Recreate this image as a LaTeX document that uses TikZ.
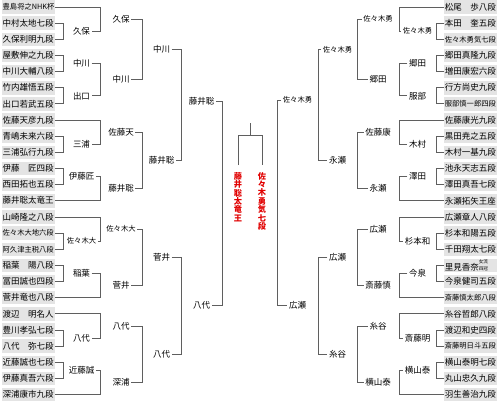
\documentclass[tikz,border=0pt]{standalone}
\usepackage{fontspec}
\setmainfont{Noto Sans CJK JP}
\usetikzlibrary{calc}
\definecolor{BoxGray}{RGB}{228,228,228}
\definecolor{LineGray}{RGB}{95,95,95}
\definecolor{FinalRed}{RGB}{225,0,0}
\newcommand\narrowname{\fontsize{7.3}{8}\selectfont}
\newcommand\lmatch[3]{\draw[bline] (#1.east) -- (#1.east -| #3) |- (#2.east);}
\newcommand\rmatch[3]{\draw[bline] (#1.west) -- (#1.west -| #3) |- (#2.west);}

\begin{document}
\begin{tikzpicture}[x=1pt, y=-1pt,
    player/.style={fill=BoxGray, minimum height=13.5pt, text width=51.5pt,
                   inner xsep=1pt, inner ysep=0pt, align=left,
                   font=\fontsize{8.5}{9}\selectfont},
    wlabel/.style={inner sep=1.5pt, font=\fontsize{8.5}{9}\selectfont},
    bline/.style={LineGray, line width=0.9pt},
    finalname/.style={text=FinalRed, inner sep=0pt, align=center,
                      font=\fontsize{8.2}{8.4}\selectfont\bfseries}]
    \path[fill=white] (0,0) rectangle (499,402);
    % bracket columns
    \foreach \n/\x in {c0/63, c1/100, c2/142, c3/181, c4/222,
                       r0/436, r1/399, r2/357, r3/318, r4/277} {
        \coordinate (\n) at (\x,0);
    }
    % left block
    \foreach \n [count=\i from 0] in {{\narrowname 豊島将之NHK杯}, 中村太地七段, 久保利明九段,
        屋敷伸之九段, 中川大輔八段, 竹内雄悟五段, 出口若武五段, 佐藤天彦九段, 青嶋未来六段,
        三浦弘行九段, 伊藤　匠四段, 西田拓也五段, 藤井聡太竜王, 山崎隆之八段,
        {\narrowname 佐々木大地六段}, {\narrowname 阿久津主税八段}, 稲葉　陽八段, 冨田誠也四段,
        菅井竜也八段, 渡辺　明名人, 豊川孝弘七段, 八代　弥七段, 近藤誠也七段, 伊藤真吾六段,
        深浦康市九段} {
        \node[player, anchor=west] (L\i) at (1.5,{7+16.15*\i}) {\n};
    }
    \foreach \n/\y/\t in {l1a/31.2/久保, l1b/63.5/中川, l1c/95.8/出口, l1d/144.3/三浦,
                          l1e/176.6/伊藤匠, l1f/241.2/{\narrowname 佐々木大}, l1g/273.5/稲葉,
                          l1h/338.1/八代, l1i/370.4/近藤誠} {
        \node[wlabel] (\n) at (81.5,\y) {\t};
    }
    \foreach \n/\y/\t in {l2a/19.1/久保, l2b/79.6/中川, l2c/132.2/佐藤天, l2d/188.7/藤井聡,
                          l2e/229.1/{\narrowname 佐々木大}, l2f/285.6/菅井, l2g/326/八代,
                          l2h/382.5/深浦} {
        \node[wlabel] (\n) at (121,\y) {\t};
    }
    \foreach \n/\y/\t in {l3a/49.3/中川, l3b/160.4/藤井聡, l3c/257.3/菅井, l3d/354.2/八代} {
        \node[wlabel] (\n) at (161.5,\y) {\t};
    }
    \foreach \n/\y/\t in {l4a/101/藤井聡, l4b/305/八代} {
        \node[wlabel] (\n) at (201.5,\y) {\t};
    }
    \foreach \a/\b in {L1/L2, L3/L4, L5/L6, L8/L9, L10/L11, L14/L15, L16/L17, L20/L21, L22/L23} {
        \lmatch{\a}{\b}{c0}
    }
    \foreach \a/\b in {L0/l1a, l1b/l1c, L7/l1d, l1e/L12, L13/l1f, l1g/L18, L19/l1h, l1i/L24} {
        \lmatch{\a}{\b}{c1}
    }
    \foreach \a/\b in {l2a/l2b, l2c/l2d, l2e/l2f, l2g/l2h} {
        \lmatch{\a}{\b}{c2}
    }
    \foreach \a/\b in {l3a/l3b, l3c/l3d} {
        \lmatch{\a}{\b}{c3}
    }
    \lmatch{l4a}{l4b}{c4}
    % right block
    \foreach \n [count=\i from 0] in {松尾　歩八段, 本田　奎五段, {\narrowname 佐々木勇気七段},
        郷田真隆九段, 増田康宏六段, 行方尚史九段, {\narrowname 服部慎一郎四段}, 佐藤康光九段,
        黒田尭之五段, 木村一基九段, 池永天志五段, 澤田真吾七段, 永瀬拓矢王座, 広瀬章人八段,
        杉本和陽五段, 千田翔太七段,
        {里見香奈{\fontsize{4.6}{4.8}\selectfont\shortstack{女流\\四冠}}},
        今泉健司五段, {\narrowname 斎藤慎太郎八段}, 糸谷哲郎八段, 渡辺和史四段,
        {\narrowname 斎藤明日斗五段}, 横山泰明七段, 丸山忠久九段, 羽生善治九段} {
        \node[player, anchor=east] (R\i) at (497.5,{7+16.15*\i}) {\n};
    }
    \foreach \n/\y/\t in {r1a/31.2/{\narrowname 佐々木勇}, r1b/63.5/郷田, r1c/95.8/服部,
                          r1d/144.3/木村, r1e/176.6/澤田, r1f/241.2/杉本和, r1g/273.5/今泉,
                          r1h/338.1/斎藤明, r1i/370.4/横山泰} {
        \node[wlabel] (\n) at (417.5,\y) {\t};
    }
    \foreach \n/\y/\t in {r2a/19.1/{\narrowname 佐々木勇}, r2b/79.6/郷田, r2c/132.2/佐藤康,
                          r2d/188.7/永瀬, r2e/229.1/広瀬, r2f/285.6/斎藤慎, r2g/326/糸谷,
                          r2h/382.5/横山泰} {
        \node[wlabel] (\n) at (378,\y) {\t};
    }
    \foreach \n/\y/\t in {r3a/49.3/{\narrowname 佐々木勇}, r3b/160.4/永瀬, r3c/257.3/広瀬,
                          r3d/354.2/糸谷} {
        \node[wlabel] (\n) at (337.5,\y) {\t};
    }
    \foreach \n/\y/\t in {r4a/100/{\narrowname 佐々木勇}, r4b/305/広瀬} {
        \node[wlabel] (\n) at (297.5,\y) {\t};
    }
    \foreach \a/\b in {R1/R2, R3/R4, R5/R6, R8/R9, R10/R11, R14/R15, R16/R17, R20/R21, R22/R23} {
        \rmatch{\a}{\b}{r0}
    }
    \foreach \a/\b in {R0/r1a, r1b/r1c, R7/r1d, r1e/R12, R13/r1f, r1g/R18, R19/r1h, r1i/R24} {
        \rmatch{\a}{\b}{r1}
    }
    \foreach \a/\b in {r2a/r2b, r2c/r2d, r2e/r2f, r2g/r2h} {
        \rmatch{\a}{\b}{r2}
    }
    \foreach \a/\b in {r3a/r3b, r3c/r3d} {
        \rmatch{\a}{\b}{r3}
    }
    \rmatch{r4a}{r4b}{r4}
    % final
    \node[finalname, anchor=north] (fl) at (238,172) {藤\\井\\聡\\太\\竜\\王};
    \node[finalname, anchor=north] (fr) at (262,172) {佐\\々\\木\\勇\\気\\七\\段};
    \coordinate (champ) at (250,123);
    \draw[bline] ([yshift=7pt]fl.north) -- ++(0,-30) -| ([yshift=7pt]fr.north);
    \draw[bline] (champ) -- ++(0,12);
\end{tikzpicture}
\end{document}
